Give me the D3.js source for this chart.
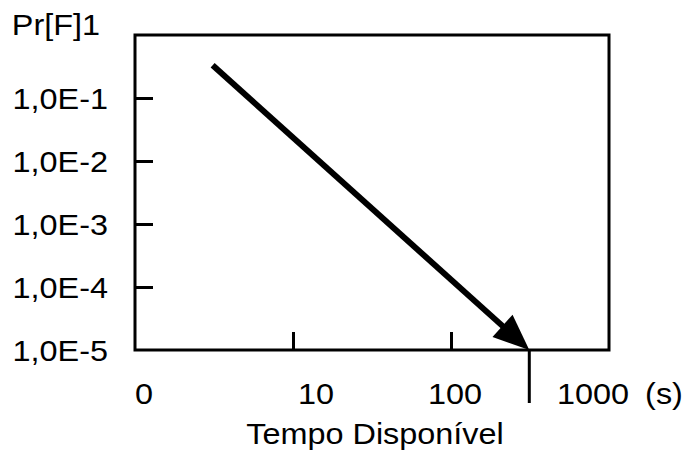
<!DOCTYPE html>
<html>
<head>
<meta charset="utf-8">
<script src="https://cdn.jsdelivr.net/npm/d3@7"></script>
<style>
  html, body { margin: 0; padding: 0; background: #fff; }
  svg { display: block; }
  text { font-family: "Liberation Sans", Arial, Helvetica, sans-serif; fill: #000; }
</style>
</head>
<body>
<svg id="chart" width="688" height="455"></svg>
<script>
// ---- data ----
const xTickValues = [1, 10, 100, 1000];
const xTickLabels = ["0", "10", "100", "1000"];
const xUnit = "(s)";
const xTitle = "Tempo Disponível";
const yTickValues = [1e-1, 1e-2, 1e-3, 1e-4, 1e-5];
const yTickLabels = ["1,0E-1", "1,0E-2", "1,0E-3", "1,0E-4", "1,0E-5"];
const yTopLabel = "Pr[F]1";
const arrowTime = [3.1, 313];          // s
const arrowProb = [0.33, 1e-5];        // Pr[F]
const markerTime = [313];              // vertical marker at arrow end

// ---- layout ----
const mLeft = 135, mRight = 609, mTop = 35, mBottom = 350;
const svg = d3.select("#chart");
const x = d3.scaleLog().domain([1, 1000]).range([mLeft, mRight]);
const y = d3.scaleLog().domain([1e-5, 1]).range([mBottom, mTop]);
const fs = 30, sx = 1.08;
const place = (px, py) => `translate(${px},${py}) scale(${sx},1)`;

// frame
svg.append("rect")
  .attr("x", mLeft).attr("y", mTop)
  .attr("width", mRight - mLeft).attr("height", mBottom - mTop)
  .attr("fill", "none").attr("stroke", "#000").attr("stroke-width", 3);

// y ticks (inward)
const yAxis = d3.axisLeft(y).tickValues(yTickValues.slice(0, 4)).tickSize(-18).tickFormat("");
const gy = svg.append("g").attr("transform", `translate(${mLeft},0)`).call(yAxis);
gy.select(".domain").remove();
gy.selectAll("line").attr("stroke", "#000").attr("stroke-width", 3);

svg.append("g").selectAll("text").data(yTickValues).join("text")
  .attr("transform", d => place(108, y(d)))
  .attr("dy", "0.36em")
  .attr("text-anchor", "end")
  .attr("font-size", fs)
  .text((d, i) => yTickLabels[i]);

svg.append("text")
  .attr("transform", place(100, 35))
  .attr("text-anchor", "end")
  .attr("font-size", fs)
  .text(yTopLabel);

// x ticks (inward) at 10 and 100
const xAxis = d3.axisBottom(x).tickValues(xTickValues.slice(1, 3)).tickSize(-18).tickFormat("");
const gx = svg.append("g").attr("transform", `translate(0,${mBottom})`).call(xAxis);
gx.select(".domain").remove();
gx.selectAll("line").attr("stroke", "#000").attr("stroke-width", 3);

// x labels (placed as in the original drawing)
const xNudge = [9, 23, 4, -16];
svg.append("g").selectAll("text").data(xTickValues).join("text")
  .attr("transform", (d, i) => place(x(d) + xNudge[i], 404))
  .attr("text-anchor", "middle")
  .attr("font-size", fs)
  .text((d, i) => xTickLabels[i]);

svg.append("text")
  .attr("transform", place(x(1000) + 55, 404))
  .attr("text-anchor", "middle")
  .attr("font-size", fs)
  .text(xUnit);

svg.append("text")
  .attr("transform", place(375, 444))
  .attr("text-anchor", "middle")
  .attr("font-size", fs)
  .text(xTitle);

// vertical marker below axis at arrow end
svg.append("g").selectAll("line").data(markerTime).join("line")
  .attr("x1", d => x(d)).attr("x2", d => x(d))
  .attr("y1", mBottom).attr("y2", 403)
  .attr("stroke", "#000").attr("stroke-width", 3);

// arrow
const x0 = x(arrowTime[0]), y0 = y(arrowProb[0]);
const x1 = x(arrowTime[1]), y1 = y(arrowProb[1]);
const ang = Math.atan2(y1 - y0, x1 - x0);
const headLen = 36, headHalf = 15;
const bx = x1 - headLen * Math.cos(ang), by = y1 - headLen * Math.sin(ang);
svg.append("line")
  .attr("x1", x0).attr("y1", y0)
  .attr("x2", bx + 4 * Math.cos(ang)).attr("y2", by + 4 * Math.sin(ang))
  .attr("stroke", "#000").attr("stroke-width", 6);
const px = -Math.sin(ang), py = Math.cos(ang);
svg.append("path")
  .attr("d", `M${x1},${y1} L${bx + headHalf * px},${by + headHalf * py} L${bx - headHalf * px},${by - headHalf * py} Z`)
  .attr("fill", "#000");
</script>
</body>
</html>
